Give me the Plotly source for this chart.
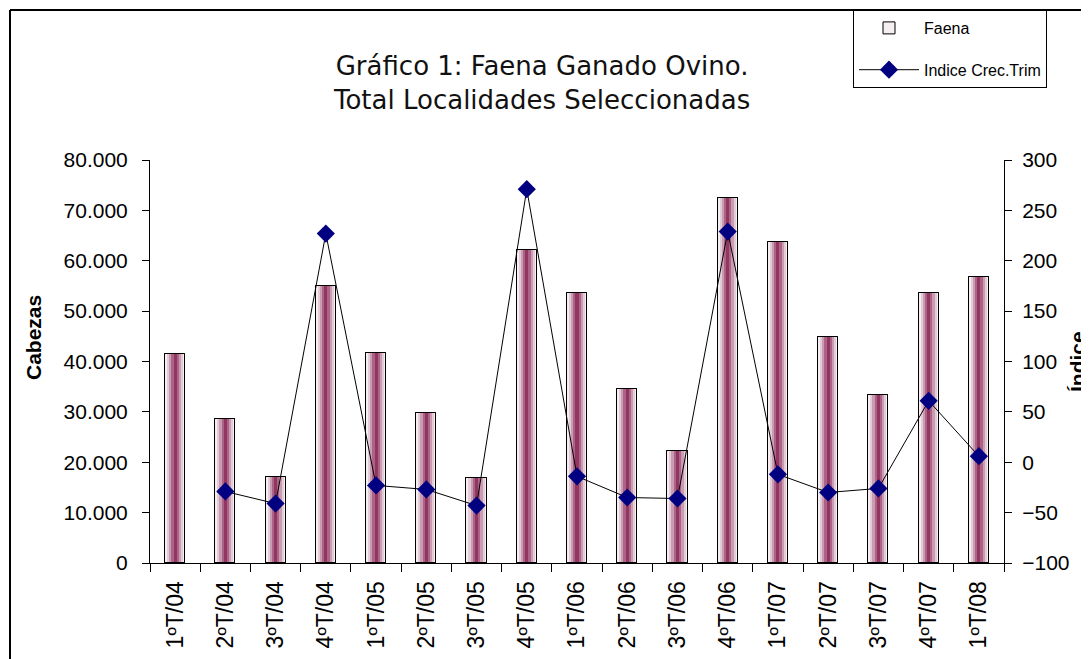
import plotly.graph_objects as go

categories = ["1ºT/04", "2ºT/04", "3ºT/04", "4ºT/04", "1ºT/05", "2ºT/05", "3ºT/05", "4ºT/05",
              "1ºT/06", "2ºT/06", "3ºT/06", "4ºT/06", "1ºT/07", "2ºT/07", "3ºT/07", "4ºT/07", "1ºT/08"]
faena = [41400, 28500, 17000, 55000, 41700, 29700, 16900, 62200,
         53600, 34500, 22200, 72400, 63700, 44800, 33300, 53600, 56800]
indice = [None, -29, -41, 227, -23, -27, -43, 271,
          -14, -35, -36, 229, -12, -30, -26, 61, 6]

# gradient simulation layers (width, colour) from outer to inner
layers = [(0.40, "#f5eff2"), (0.32, "#e3cbd7"), (0.24, "#c99cb2"), (0.15, "#ac6388"), (0.06, "#93365f")]

fig = go.Figure()
for i, (w, c) in enumerate(layers):
    fig.add_trace(go.Bar(
        x=categories, y=faena, width=w, name="Faena", legendgroup="faena",
        marker=dict(color=c, line=dict(color="black", width=1 if i == 0 else 0)),
        showlegend=(i == 0), yaxis="y",
    ))
# outline on top
fig.add_trace(go.Bar(x=categories, y=faena, width=layers[0][0], showlegend=False,
                     legendgroup="faena",
                     marker=dict(color="rgba(0,0,0,0)", line=dict(color="black", width=1)),
                     hoverinfo="skip"))

fig.add_trace(go.Scatter(
    x=categories, y=indice, name="Indice Crec.Trim", yaxis="y2", legendgroup="indice",
    mode="lines+markers",
    line=dict(color="black", width=1),
    marker=dict(symbol="diamond", size=14, color="#000080"),
))

OFF = 8  # browser page margin
W, H = 1089 - OFF, 659 - OFF
# plot area in reference pixels: left 150, right 1004, top 160, bottom 563
L = 150 - OFF
T = 160 - OFF
R = W - (1004 - OFF)
B = H - (563 - OFF)
pw, ph = W - L - R, H - T - B

def px(xp):
    return (xp - OFF - L) / pw

def py(yp):
    return (H - B - (yp - OFF)) / ph

font_main = "Liberation Sans, Arial, sans-serif"

fig.update_layout(
    width=W, height=H,
    margin=dict(l=L, r=R, t=T, b=B, autoexpand=False),
    paper_bgcolor="white", plot_bgcolor="white",
    barmode="overlay", bargap=0,
    separators=",.",
    font=dict(family=font_main, color="black", size=21),
    xaxis=dict(type="category", range=[-0.5, len(categories) - 0.5], tickson="boundaries",
               ticks="outside", ticklen=8, ticklabelstandoff=8,
               tickcolor="black", showline=True, linecolor="black", linewidth=1,
               tickangle=-90, showgrid=False, tickfont=dict(size=23)),
    yaxis=dict(range=[0, 80000], dtick=10000, tickformat=",d", ticks="outside", ticklen=7,
               ticklabelstandoff=10,
               tickcolor="black", showline=True, linecolor="black", linewidth=1,
               showgrid=False, zeroline=False, tickfont=dict(size=21)),
    yaxis2=dict(range=[-100, 300], dtick=50, overlaying="y", side="right", ticks="outside",
                ticklen=7, ticklabelstandoff=6, tickcolor="black", showline=True,
                linecolor="black", linewidth=1,
                showgrid=False, zeroline=False, tickfont=dict(size=21)),
    legend=dict(x=px(853), y=py(10), xanchor="left", yanchor="top",
                bgcolor="white", bordercolor="black", borderwidth=1,
                font=dict(size=16), tracegroupgap=18, itemwidth=60),
    showlegend=True,
)

fig.add_annotation(text="Gráfico 1: Faena Ganado Ovino.<br>Total Localidades Seleccionadas",
                   xref="paper", yref="paper", x=px(541), y=py(83), showarrow=False,
                   font=dict(family="DejaVu Sans, Verdana, sans-serif", size=26, color="#111111"),
                   align="center", xanchor="center", yanchor="middle")
fig.add_annotation(text="<b>Cabezas</b>", textangle=-90, xref="paper", yref="paper",
                   x=px(33), y=py(337), showarrow=False, font=dict(size=21),
                   xanchor="center", yanchor="middle")
fig.add_annotation(text="<b>Índice</b>", textangle=-90, xref="paper", yref="paper",
                   x=px(1077), y=py(362), showarrow=False, font=dict(size=21),
                   xanchor="center", yanchor="middle")

# outer chart frame
fig.add_shape(type="line", xref="paper", yref="paper", x0=px(10), x1=px(1100), y0=py(10), y1=py(10),
              line=dict(color="black", width=2))
fig.add_shape(type="line", xref="paper", yref="paper", x0=px(10), x1=px(10), y0=py(10), y1=py(670),
              line=dict(color="black", width=2))

fig.write_html("out.html")
